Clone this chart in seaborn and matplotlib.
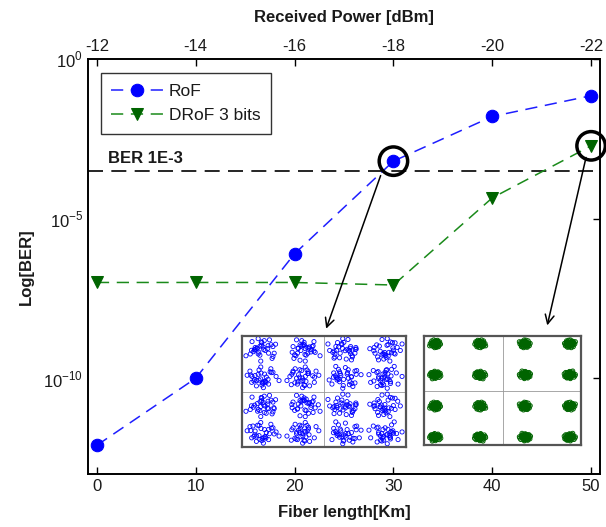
import numpy as np
import pandas as pd
import matplotlib
matplotlib.use('Agg')
import matplotlib.pyplot as plt
import seaborn as sns

# ---------------- data ----------------
fiber_km = [0, 10, 20, 30, 40, 50]
received_power = [-12, -14, -16, -18, -20, -22]
ber_rof = [10**-12.1, 1e-10, 10**-6.1, 10**-3.2, 10**-1.8, 10**-1.15]
ber_drof = [1e-7, 1e-7, 1e-7, 10**-7.08, 10**-4.35, 10**-2.72]
ber_limit = 10**-3.5
y_ticks = [1e-10, 1e-5, 1e0]

# 16-QAM constellation levels and hand-typed noise offsets for the insets
qam_levels = [-3, -1, 1, 3]
off_x = [0.12, -0.45, 0.78, -0.20, 0.35, -0.88, 0.05, 0.60, -0.62, 0.22, -0.10, 0.95,
         -0.35, 0.48, -0.72, 0.15, 0.40, -0.28, 0.70, -0.05, -0.50, 0.28, 0.85, -0.95, 0.02]
off_y = [0.30, -0.15, 0.10, 0.65, -0.55, 0.20, -0.85, 0.45, -0.40, 0.05, 0.90, -0.25,
         -0.70, 0.75, 0.55, -0.30, -0.05, 0.35, -0.60, 0.15, -0.95, 0.60, 0.40, -0.10, -0.45]

sns.set_theme(style='white')
plt.rcParams['font.family'] = ['Liberation Sans', 'DejaVu Sans']
plt.rcParams['mathtext.fontset'] = 'custom'
plt.rcParams['mathtext.rm'] = 'Liberation Sans'

TXT = '#1a1a1a'

fig = plt.figure(figsize=(6.06, 5.27), dpi=100)
fig.patch.set_facecolor('white')
ax = fig.add_axes([88/606, 1-474/527, 512/606, 415/527])
ax.set_facecolor('white')

df = pd.DataFrame({'km': fiber_km, 'RoF': ber_rof, 'DRoF 3 bits': ber_drof})

sns.lineplot(data=df, x='km', y='RoF', ax=ax, color='#1e1eff', marker='o',
             markersize=9, markerfacecolor='#0000ff', markeredgecolor='#0000ff',
             linestyle=(0, (8, 5)), linewidth=1.1, label='RoF')
sns.lineplot(data=df, x='km', y='DRoF 3 bits', ax=ax, color='#1a8a1a', marker='v',
             markersize=9, markerfacecolor='#006400', markeredgecolor='#006400',
             linestyle=(0, (8, 5)), linewidth=1.1, label='DRoF 3 bits')

ax.axhline(ber_limit, color='black', linestyle=(0, (9, 5)), linewidth=1.2, zorder=1)
ax.text(1.1, 10**-3.13, 'BER 1E-3', fontsize=12, fontweight='bold', ha='left',
        va='center', color=TXT)

ax.set_yscale('log')
ax.set_xlim(-0.9, 50.9)
ax.set_ylim(1e-13, 1e0)
ax.set_yticks(y_ticks)
ax.set_yticklabels([r'$10^{-10}$', r'$10^{-5}$', r'$10^{0}$'], fontsize=12)
ax.yaxis.set_minor_locator(matplotlib.ticker.NullLocator())
ax.set_xticks(fiber_km)
ax.set_xticklabels([str(v) for v in fiber_km], fontsize=12)
ax.tick_params(direction='in', length=5, width=1, top=False, right=True,
               colors='black', labelcolor=TXT)
ax.set_xlabel('Fiber length[Km]', fontsize=12, fontweight='bold', labelpad=8, color=TXT)
ax.set_ylabel('Log[BER]', fontsize=12, fontweight='bold', labelpad=7, color=TXT)
for s in ax.spines.values():
    s.set_color('black')
    s.set_linewidth(1.4)

# top axis: received power
ax2 = ax.twiny()
ax2.set_xlim(ax.get_xlim())
ax2.set_xticks(fiber_km)
ax2.set_xticklabels([str(v) for v in received_power], fontsize=12)
ax2.tick_params(direction='in', length=5, width=1, colors='black', labelcolor=TXT)
ax2.set_xlabel('Received Power [dBm]', fontsize=12, fontweight='bold', labelpad=12, color=TXT)
for s in ax2.spines.values():
    s.set_visible(False)

# circles highlighting points
ax.scatter([fiber_km[3]], [ber_rof[3]], s=420, facecolors='none', edgecolors='black',
           linewidths=2.5, zorder=5)
ax.scatter([fiber_km[5]], [ber_drof[5]], s=420, facecolors='none', edgecolors='black',
           linewidths=2.5, zorder=5, clip_on=False)

# arrows
ax.annotate('', xy=(23.1, 10**-8.53), xytext=(28.8, 10**-3.57),
            arrowprops=dict(arrowstyle='->', color='black', lw=1.1, mutation_scale=16),
            annotation_clip=False)
ax.annotate('', xy=(45.5, 10**-8.43), xytext=(49.55, 10**-3.0),
            arrowprops=dict(arrowstyle='->', color='black', lw=1.1, mutation_scale=16),
            annotation_clip=False)

leg = ax.legend(loc='upper left', bbox_to_anchor=(0.025, 0.966), borderaxespad=0,
                fontsize=12.5, frameon=True, fancybox=False, edgecolor='black',
                handlelength=3.0, handletextpad=0.3, borderpad=0.6, labelspacing=0.55)
leg.get_frame().set_linewidth(1.0)
for t in leg.get_texts():
    t.set_color(TXT)


def transform(ox, oy, t):
    if t == 1:
        return -ox, oy
    if t == 2:
        return ox, -oy
    if t == 3:
        return -ox, -oy
    if t == 4:
        return oy, ox
    if t == 5:
        return -oy, ox
    if t == 6:
        return oy, -ox
    if t == 7:
        return -oy, -ox
    return ox, oy


def constellation(scale, n_use, k_shift, scale2):
    xs, ys = [], []
    k = 0
    n = len(off_x)
    for yi in qam_levels:
        for xi in qam_levels:
            for j in range(n_use):
                idx = (j + k * k_shift) % n
                ox, oy = transform(off_x[idx], off_y[idx], k % 8)
                xs.append(xi + ox * scale)
                ys.append(yi + oy * scale)
                idx2 = (j * 7 + k * 5 + 11) % n
                ox, oy = transform(off_x[idx2], off_y[(idx2 + 4) % n], (k + 3) % 8)
                xs.append(xi + ox * scale2)
                ys.append(yi + oy * scale2)
            k += 1
    return xs, ys


def style_inset(iax, lim):
    iax.set_xlim(-lim, lim)
    iax.set_ylim(-lim, lim)
    iax.set_xticks([])
    iax.set_yticks([])
    iax.axhline(0, color='#999999', lw=0.6, zorder=0)
    iax.axvline(0, color='#999999', lw=0.6, zorder=0)
    for s in iax.spines.values():
        s.set_color('#555555')
        s.set_linewidth(1.6)
    iax.set_facecolor('white')


in1 = fig.add_axes([242/606, 1-447/527, 164/606, 111/527])
bx, by = constellation(0.85, 17, 3, 0.6)
in1.scatter(bx, by, s=9, facecolors='none', edgecolors='#0000ff', linewidths=0.6)
style_inset(in1, 4.0)

in2 = fig.add_axes([424/606, 1-445/527, 157/606, 109/527])
gx, gy = constellation(0.26, 25, 2, 0.18)
in2.scatter(gx, gy, s=9, facecolors='none', edgecolors='#006400', linewidths=0.7)
style_inset(in2, 3.5)

fig.savefig('out.png', dpi=100, facecolor='white')
